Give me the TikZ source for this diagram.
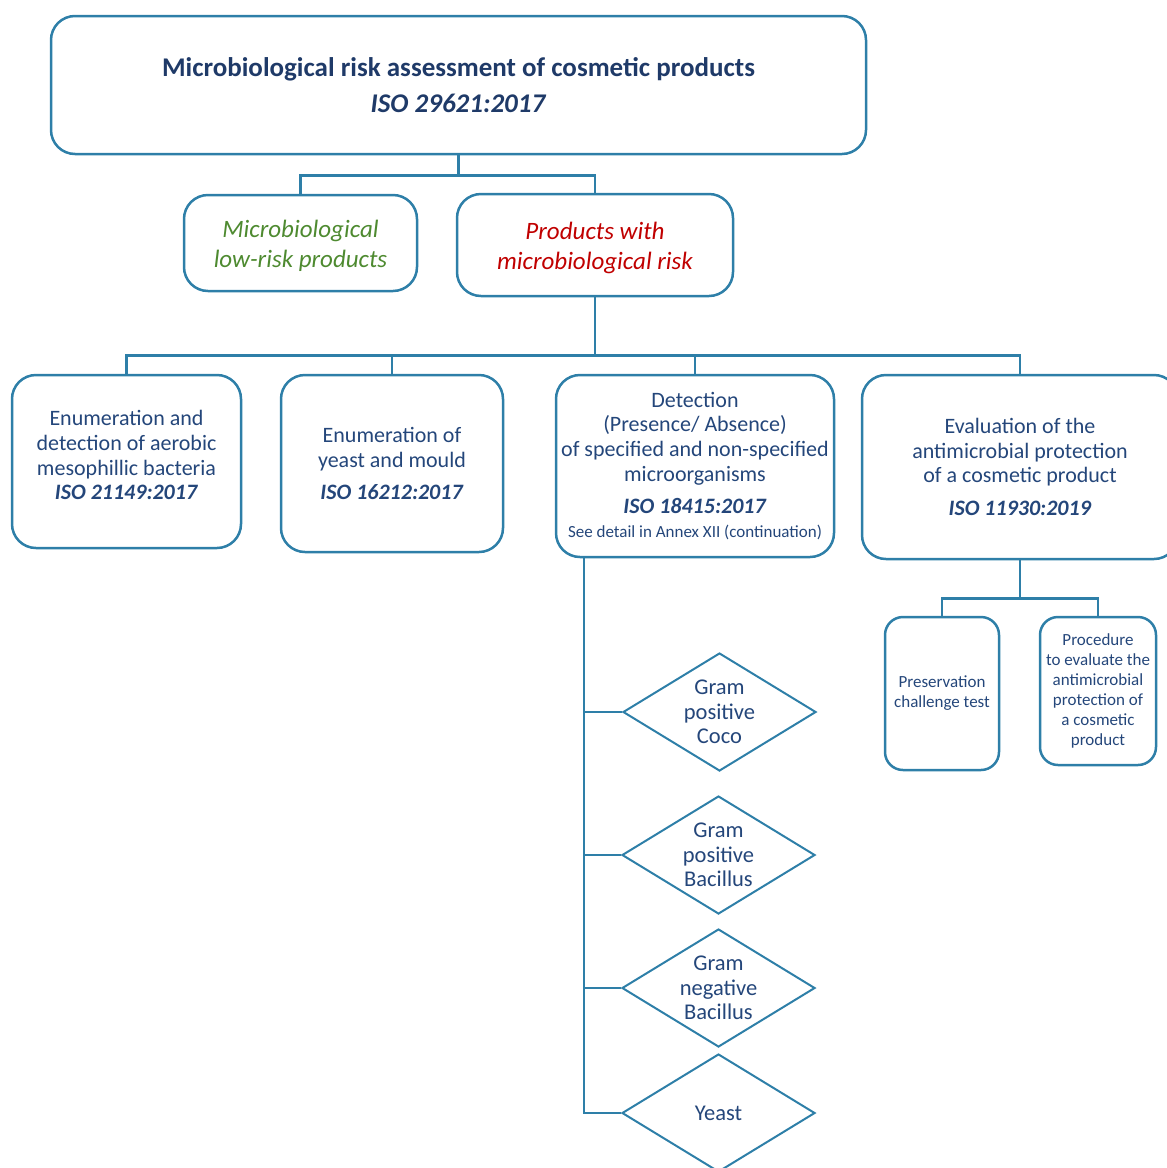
\documentclass[tikz,border=0pt]{standalone}
\usepackage{fontspec}
\setmainfont{Carlito}
\usepackage{xcolor}
\usepackage{tikz}
\usetikzlibrary{shapes.geometric,positioning}
\definecolor{edgeblue}{HTML}{2E7FA8}
\definecolor{txtblue}{HTML}{24467A}
\definecolor{titleblue}{HTML}{1F3A68}
\definecolor{lowgreen}{HTML}{4E8A30}
\definecolor{riskred}{HTML}{C00000}

\begin{document}
\begin{tikzpicture}[
 x=1pt,y=-1pt,
 box/.style={draw=edgeblue,line width=2.5pt,rounded corners=24pt,align=center,text=txtblue,
   font=\fontsize{22}{24.7}\selectfont,inner sep=2pt},
 smallbox/.style={box,rounded corners=18pt,font=\fontsize{17}{20}\selectfont},
 test/.style={draw=edgeblue,line width=2pt,diamond,shape aspect=1.64,inner sep=0pt,
   minimum width=193pt,minimum height=118pt,align=center,text=txtblue,
   font=\fontsize{22.5}{24.5}\selectfont},
 link/.style={draw=edgeblue,line width=2.5pt}
]
\useasboundingbox (0,0) rectangle (1167,1168);
\node[box,minimum width=815pt,minimum height=138pt,text=titleblue,
  font=\bfseries\fontsize{27}{36}\selectfont] (title) at (458.5,85)
  {Microbiological risk assessment of cosmetic products\\\textit{ISO 29621:2017}};
\node[box,minimum width=233pt,minimum height=96pt,text=lowgreen,
  font=\itshape\fontsize{25}{30}\selectfont] (low) at (300.5,243)
  {\rule{0pt}{24pt}Microbiological\\low-risk products};
\node[box,minimum width=276pt,minimum height=102pt,text=riskred,
  font=\itshape\fontsize{25}{30}\selectfont] (risk) at (595,245)
  {\rule{0pt}{24pt}Products with\\microbiological risk};
\node[box,minimum width=229pt,minimum height=173pt] (aerob) at (126.5,461.5)
  {Enumeration and\\detection of aerobic\\mesophillic bacteria\\\textbf{\textit{ISO 21149:2017}}\\[-12pt]};
\node[box,minimum width=222pt,minimum height=177pt] (mould) at (392,463.5)
  {Enumeration of\\yeast and mould\\[8pt]\textbf{\textit{ISO 16212:2017}}};
\node[box,minimum width=278pt,minimum height=182pt] (detect) at (695,466)
  {Detection\\(Presence/ Absence)\\of specified and non-specified\\microorganisms\\[8pt]
   \textbf{\textit{ISO 18415:2017}}\\[-1pt]{\fontsize{17}{20}\selectfont See detail in Annex XII (continuation)}};
\node[box,minimum width=316pt,minimum height=184pt] (eval) at (1020,467)
  {Evaluation of the\\antimicrobial protection\\of a cosmetic product\\[8pt]\textbf{\textit{ISO 11930:2019}}};
\node[smallbox,minimum width=114pt,minimum height=153pt] (chall) at (942,693.5)
  {Preservation\\challenge test};
\node[smallbox,minimum width=116pt,minimum height=148pt] (proc) at (1098,691)
  {Procedure\\to evaluate the\\antimicrobial\\protection of\\a cosmetic\\product};
\node[test] (coco) at (719.5,712) {Gram\\positive\\Coco};
\node[test] (gpbac) at (718.5,855) {Gram\\positive\\Bacillus};
\node[test] (gnbac) at (718.5,988) {Gram\\negative\\Bacillus};
\node[test] (yst) at (718.5,1113) {Yeast};
\coordinate (bus) at ([xshift=-111pt]detect.south);
\draw[link] (title.south) -- ++(0,20) -| (low.north);
\draw[link] (title.south) -- ++(0,20) -| (risk.north);
\draw[link] (risk.south) -- ++(0,58) -| (aerob.north);
\draw[link] (risk.south) -- ++(0,58) -| (mould.north);
\draw[link] (risk.south) -- ++(0,58) -| (detect.north);
\draw[link] (risk.south) -- ++(0,58) -| (eval.north);
\draw[link] (eval.south) -- ++(0,38) -| (chall.north);
\draw[link] (eval.south) -- ++(0,38) -| (proc.north);
\draw[link] (bus) |- (coco.west);
\draw[link] (bus) |- (gpbac.west);
\draw[link] (bus) |- (gnbac.west);
\draw[link] (bus) |- (yst.west);
\end{tikzpicture}
\end{document}
